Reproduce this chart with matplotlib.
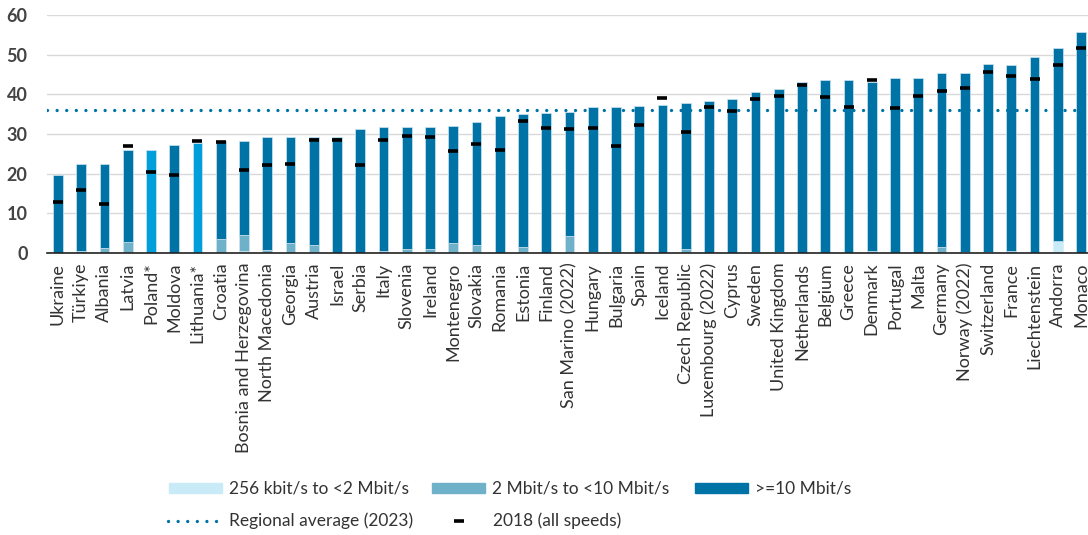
import matplotlib.pyplot as plt
import numpy as np
from matplotlib.lines import Line2D
from matplotlib.patches import Rectangle

plt.rcParams['font.family'] = ['Lato', 'DejaVu Sans']

countries = ['Ukraine', 'Türkiye', 'Albania', 'Latvia', 'Poland*', 'Moldova', 'Lithuania*',
             'Croatia', 'Bosnia and Herzegovina', 'North Macedonia', 'Georgia', 'Austria',
             'Israel', 'Serbia', 'Italy', 'Slovenia', 'Ireland', 'Montenegro', 'Slovakia',
             'Romania', 'Estonia', 'Finland', 'San Marino (2022)', 'Hungary', 'Bulgaria',
             'Spain', 'Iceland', 'Czech Republic', 'Luxembourg (2022)', 'Cyprus', 'Sweden',
             'United Kingdom', 'Netherlands', 'Belgium', 'Greece', 'Denmark', 'Portugal',
             'Malta', 'Germany', 'Norway (2022)', 'Switzerland', 'France', 'Liechtenstein',
             'Andorra', 'Monaco']

# total subscriptions per 100 inhabitants (2023)
total = [19.6, 22.4, 22.4, 25.9, 26.0, 27.3, 27.7, 28.3, 28.3, 29.2, 29.2, 29.3,
         29.3, 31.2, 31.7, 31.8, 31.8, 31.9, 33.0, 34.5, 35.1, 35.2, 35.6, 36.7, 36.8,
         37.1, 37.4, 37.8, 38.2, 38.7, 40.7, 41.3, 43.1, 43.6, 43.7, 43.1, 44.0,
         44.1, 45.3, 45.5, 47.6, 47.5, 49.3, 51.6, 55.8]
low = [0, 0, 0, 0, 0, 0, 0, 0, 0.6, 0, 0, 0,
       0, 0, 0, 0, 0, 0, 0, 0, 0, 0, 0, 0, 0,
       0, 0, 0, 0, 0, 0, 0, 0, 0, 0, 0, 0,
       0, 0, 0, 0, 0, 0, 3.1, 0]
mid = [0, 0.6, 1.3, 2.8, 0, 0, 0, 3.6, 4.0, 0.8, 2.5, 2.1,
       0, 0, 0.6, 0.9, 1.1, 2.6, 1.9, 0, 1.4, 0, 4.3, 0.3, 0.3,
       0, 0, 0.9, 0, 0, 0.3, 0.3, 0, 0, 0, 0.6, 0,
       0, 1.4, 0.3, 0.3, 0.6, 0, 0, 0]
y2018 = [12.8, 15.8, 12.4, 27.1, 20.5, 19.7, 28.2, 28.0, 21.0, 22.3, 22.5, 28.5,
         28.6, 22.3, 28.5, 29.5, 29.2, 25.7, 27.6, 25.9, 33.3, 31.4, 31.3, 31.4, 27.1,
         32.2, 39.1, 30.5, 36.8, 35.7, 38.7, 39.7, 42.4, 39.3, 36.9, 43.7, 36.6,
         39.6, 40.9, 41.5, 45.6, 44.5, 43.9, 47.5, 51.6]
regional_avg = 36.0
highlight = ['Poland*', 'Lithuania*']

c_low = '#c9ebf8'
c_mid = '#70b1ca'
c_high = '#0073a6'
c_hl = '#009fdb'
txt = '#333333'

low = np.array(low)
mid = np.array(mid)
total = np.array(total)
high = total - low - mid
x = np.arange(len(countries))
high_colors = [c_hl if c in highlight else c_high for c in countries]

W, H = 1088, 535
fig = plt.figure(figsize=(W / 100, H / 100), dpi=100)
ax = fig.add_axes([47 / W, 1 - 253 / H, 1 - 47 / W, (253 - 15) / H])

w = 0.42
ax.bar(x, low, w, color=c_low, edgecolor='#d8eef7', linewidth=0.5, zorder=2)
ax.bar(x, mid, w, bottom=low, color=c_mid, edgecolor='#cfe5ee', linewidth=0.5, zorder=2)
ax.bar(x, high, w, bottom=low + mid, color=high_colors, edgecolor='#cfe5ee', linewidth=0.5, zorder=2)

dots = (0, (0.01, 2.87))
ax.axhline(regional_avg, color=c_high, linewidth=2.4, linestyle=dots,
           dash_capstyle='round', zorder=3)
ax.plot(x, y2018, linestyle='none', marker='_', markersize=7, markeredgewidth=2.6,
        color='black', zorder=4)

ax.set_xlim(-0.47, 44.3)
ax.set_ylim(0, 60)
ax.set_yticks(range(0, 61, 10))
ax.set_xticks(x)
ax.set_xticklabels(countries, rotation=90, fontsize=13, color=txt)
ax.tick_params(axis='x', length=0, pad=7)
ax.tick_params(axis='y', length=0, labelsize=13, labelcolor='#444444', pad=14)
for t in ax.get_yticklabels():
    t.set_fontweight('bold')
ax.grid(axis='y', color='#d9d9d9', linewidth=1, zorder=0)
ax.set_axisbelow(True)
for s in ['left', 'right', 'top']:
    ax.spines[s].set_visible(False)
ax.spines['bottom'].set_color('#222222')
ax.spines['bottom'].set_linewidth(1.2)

# legend, drawn by hand in pixel positions of the figure
def fx(px):
    return px / W

def fy(py):
    return 1 - py / H

row1, row2 = 488, 521
for x0, col, label in [(169, c_low, '256 kbit/s to <2 Mbit/s'),
                       (432, c_mid, '2 Mbit/s to <10 Mbit/s'),
                       (695, c_high, '>=10 Mbit/s')]:
    fig.add_artist(Rectangle((fx(x0), fy(row1 + 5)), fx(53), 10 / H,
                             color=col, transform=fig.transFigure))
    fig.text(fx(x0 + 60), fy(row1), label, fontsize=12.5, color=txt, va='center')

fig.add_artist(Line2D([fx(168), fx(220)], [fy(row2), fy(row2)], color=c_high,
                      linewidth=2.4, linestyle=dots, dash_capstyle='round',
                      transform=fig.transFigure))
fig.text(fx(229), fy(row2), 'Regional average (2023)', fontsize=12.5, color=txt, va='center')
fig.add_artist(Line2D([fx(459)], [fy(row2)], color='black', marker='_', markersize=7,
                      markeredgewidth=2.6, linestyle='none', transform=fig.transFigure))
fig.text(fx(493), fy(row2), '2018 (all speeds)', fontsize=12.5, color=txt, va='center')

fig.savefig('out.png', dpi=100)
